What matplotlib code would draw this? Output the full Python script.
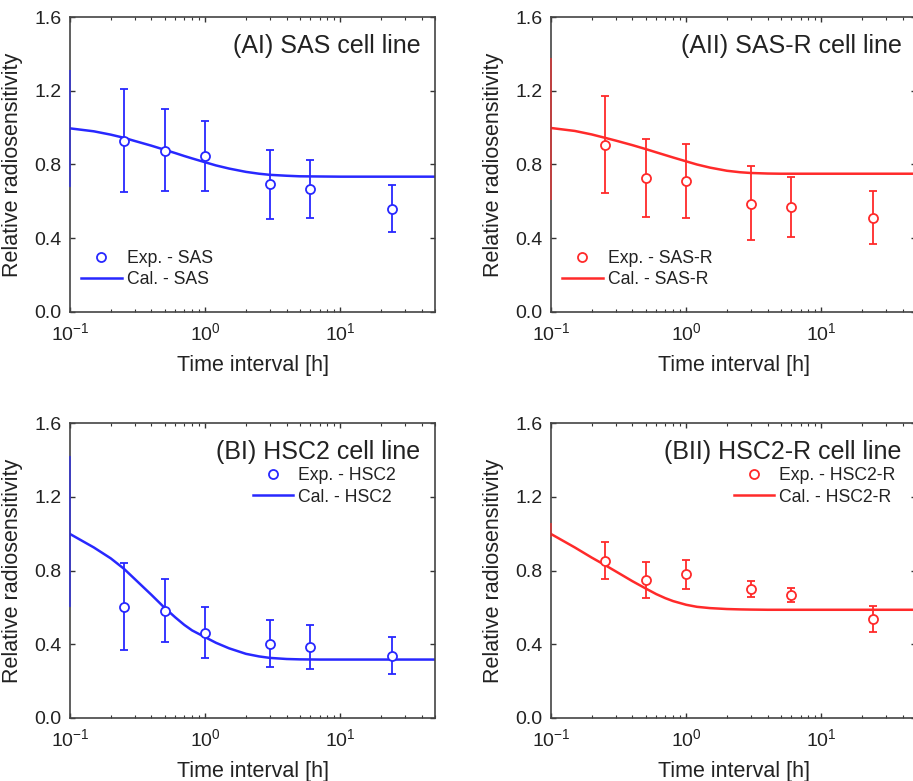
import matplotlib
matplotlib.use("Agg")
import matplotlib.pyplot as plt
from matplotlib.ticker import LogLocator, NullFormatter, MultipleLocator

plt.rcParams["font.family"] = ["Liberation Sans", "DejaVu Sans"]
plt.rcParams["mathtext.fontset"] = "custom"
plt.rcParams["mathtext.rm"] = "Liberation Sans"
plt.rcParams["mathtext.it"] = "Liberation Sans:italic"
plt.rcParams["mathtext.bf"] = "Liberation Sans:bold"

# Measured time points [h]
time_h = [0.25, 0.5, 1, 3, 6, 24]

# Experimental data (mean, upper, lower)
sas_exp = [0.929, 0.875, 0.848, 0.693, 0.667, 0.561]
sas_hi = [1.212, 1.100, 1.035, 0.877, 0.822, 0.689]
sas_lo = [0.649, 0.655, 0.658, 0.505, 0.512, 0.436]

sasr_exp = [0.906, 0.727, 0.712, 0.588, 0.570, 0.512]
sasr_hi = [1.174, 0.939, 0.913, 0.790, 0.731, 0.656]
sasr_lo = [0.644, 0.515, 0.512, 0.389, 0.405, 0.369]

hsc2_exp = [0.603, 0.582, 0.462, 0.404, 0.384, 0.337]
hsc2_hi = [0.839, 0.756, 0.600, 0.531, 0.504, 0.440]
hsc2_lo = [0.368, 0.413, 0.323, 0.279, 0.265, 0.236]

hsc2r_exp = [0.853, 0.748, 0.779, 0.699, 0.665, 0.538]
hsc2r_hi = [0.953, 0.846, 0.855, 0.741, 0.704, 0.609]
hsc2r_lo = [0.756, 0.652, 0.701, 0.658, 0.627, 0.466]

# Calculated curves
curve_t = [0.1, 0.15, 0.2, 0.25, 0.3, 0.4, 0.5, 0.6, 0.7, 0.8, 1.0, 1.2, 1.5,
           2.0, 2.5, 3.0, 4.0, 5.0, 7.0, 10, 20, 50]
sas_cal = [0.996, 0.980, 0.962, 0.945, 0.928, 0.902, 0.880, 0.862, 0.846,
           0.833, 0.812, 0.795, 0.778, 0.760, 0.750, 0.744, 0.739, 0.736,
           0.735, 0.734, 0.734, 0.734]
sasr_cal = [0.998, 0.982, 0.963, 0.945, 0.930, 0.905, 0.884, 0.866, 0.851,
            0.838, 0.817, 0.800, 0.783, 0.766, 0.758, 0.754, 0.751, 0.750,
            0.750, 0.750, 0.750, 0.750]
hsc2_cal = [0.998, 0.925, 0.866, 0.810, 0.755, 0.668, 0.598, 0.546, 0.505,
            0.475, 0.438, 0.408, 0.378, 0.348, 0.334, 0.326, 0.320, 0.318,
            0.317, 0.317, 0.317, 0.317]
hsc2r_cal = [0.998, 0.925, 0.870, 0.830, 0.796, 0.742, 0.703, 0.672, 0.650,
             0.634, 0.614, 0.603, 0.596, 0.591, 0.589, 0.588, 0.587, 0.587,
             0.587, 0.587, 0.587, 0.587]

# faint coloured stretch seen on each left spine (low, high)
spine_mark = [(0.68, 1.31), (0.61, 1.38), (0.60, 1.42), (0.98, 1.06)]

blue = "#2828ff"
red = "#ff2a2a"

panels = [
    ("(AI) SAS cell line", "SAS", sas_exp, sas_hi, sas_lo, sas_cal, blue, "low"),
    ("(AII) SAS-R cell line", "SAS-R", sasr_exp, sasr_hi, sasr_lo, sasr_cal, red, "low"),
    ("(BI) HSC2 cell line", "HSC2", hsc2_exp, hsc2_hi, hsc2_lo, hsc2_cal, blue, "high"),
    ("(BII) HSC2-R cell line", "HSC2-R", hsc2r_exp, hsc2r_hi, hsc2r_lo, hsc2r_cal, red, "high"),
]

W, H = 913, 781
fig = plt.figure(figsize=(W / 100, H / 100), dpi=100)

# axes boxes in pixels: left, bottom (from top)
boxes = [(70, 312), (551, 312), (70, 718), (551, 718)]
aw, ah = 365, 295

for (title, name, y, hi, lo, cal, col, legpos), (px, pb), sm in zip(panels, boxes, spine_mark):
    ax = fig.add_axes([px / W, (H - pb) / H, aw / W, ah / H])

    ax.plot(curve_t, cal, color=col, lw=1.8, label="Cal. - " + name, zorder=2)
    yerr = [[m - l for m, l in zip(y, lo)], [h - m for m, h in zip(y, hi)]]
    ax.errorbar(time_h, y, yerr=yerr, fmt="none", ecolor=col, elinewidth=1.3,
                capsize=3, capthick=1.3, zorder=3)
    ax.plot(time_h, y, "o", ms=6.5, mfc="white", mec=col, mew=1.3,
            ls="none", label="Exp. - " + name, zorder=4)
    ax.vlines(0.1, sm[0], sm[1], color=col, lw=1.2, alpha=0.7, zorder=3,
              clip_on=False)

    ax.set_xscale("log")
    ax.set_xlim(0.1, 50)
    ax.set_ylim(0, 1.6)
    ax.yaxis.set_major_locator(MultipleLocator(0.4))
    ax.yaxis.set_major_formatter(plt.FuncFormatter(lambda v, p: f"{v:.1f}"))
    ax.xaxis.set_major_locator(LogLocator(base=10, numticks=10))
    ax.xaxis.set_minor_locator(LogLocator(base=10, subs=range(2, 10), numticks=20))
    ax.xaxis.set_minor_formatter(NullFormatter())

    ax.tick_params(which="both", direction="in", top=True, right=True,
                   colors="#333333", labelcolor="#222222")
    ax.tick_params(which="major", length=3.5, width=1.0, labelsize=14)
    ax.tick_params(which="minor", length=2, width=0.8)
    ax.tick_params(axis="y", pad=6)
    ax.tick_params(axis="x", pad=7)
    for s in ax.spines.values():
        s.set_color("#444444")
        s.set_linewidth(1.2)

    ax.set_xlabel("Time interval [h]", fontsize=15.5, color="#222222", labelpad=8)
    ax.set_ylabel("Relative radiosensitivity", fontsize=15.5, color="#222222", labelpad=8)

    ax.text(0.96, 0.90, title, transform=ax.transAxes, ha="right", va="center",
            fontsize=18, color="#222222")

    handles, labels = ax.get_legend_handles_labels()
    handles, labels = handles[::-1], labels[::-1]
    if legpos == "low":
        leg = ax.legend(handles, labels, loc="lower left", bbox_to_anchor=(0.03, 0.08),
                        frameon=False, fontsize=12.7, handlelength=2.3,
                        handletextpad=0.3, labelspacing=0.25, borderpad=0,
                        borderaxespad=0)
    else:
        leg = ax.legend(handles, labels, loc="upper left", bbox_to_anchor=(0.50, 0.85),
                        frameon=False, fontsize=12.7, handlelength=2.3,
                        handletextpad=0.3, labelspacing=0.25, borderpad=0,
                        borderaxespad=0)
    for t in leg.get_texts():
        t.set_color("#222222")

fig.savefig("out.png", dpi=100, facecolor="white")
